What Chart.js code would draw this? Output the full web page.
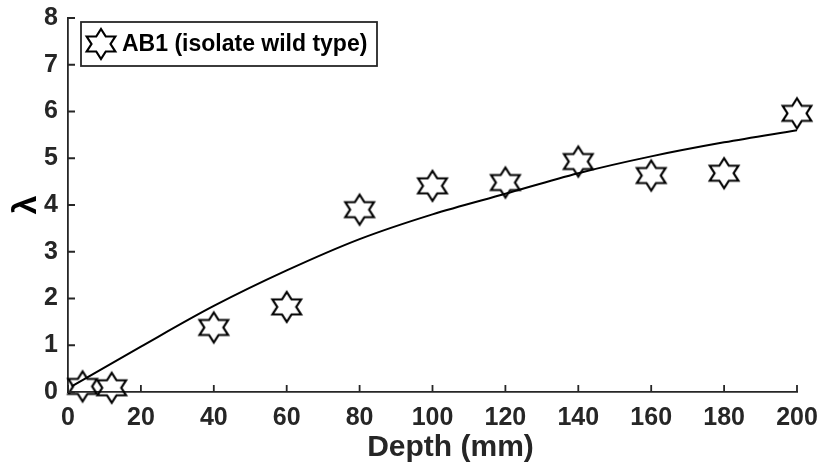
<!DOCTYPE html>
<html>
<head>
<meta charset="utf-8">
<script src="https://cdn.jsdelivr.net/npm/chart.js@4/dist/chart.umd.min.js"></script>
<style>
  html, body { margin: 0; padding: 0; background: #fff; }
  #wrap { width: 826px; height: 468px; }
</style>
</head>
<body>
<div id="wrap"><canvas id="chart" width="826" height="468"></canvas></div>
<script>
// ==== Data ====
const depth = [4, 12, 40, 60, 80, 100, 120, 140, 160, 180, 200];
const lambda = [0.12, 0.09, 1.38, 1.82, 3.9, 4.41, 4.48, 4.93, 4.63, 4.68, 5.96];

// fitted curve
const fitDepth = [1, 20, 40, 60, 80, 100, 120, 140, 160, 180, 200];
const fitLambda = [0.12, 0.97, 1.84, 2.6, 3.27, 3.8, 4.24, 4.68, 5.04, 5.34, 5.6];

const xTicks = [0, 20, 40, 60, 80, 100, 120, 140, 160, 180, 200];
const yTicks = [0, 1, 2, 3, 4, 5, 6, 7, 8];

const seriesLabel = "AB1 (isolate wild type)";
const xTitle = "Depth (mm)";
const axisColor = "#262626";
const fontFam = "'Liberation Sans', Arial, sans-serif";

// ==== Hexagram marker ====
function makeStar(r) {
  const size = Math.ceil(r * 2 + 6);
  const c = document.createElement("canvas");
  c.width = size;
  c.height = size;
  const g = c.getContext("2d");
  const cx = size / 2, cy = size / 2;
  const inner = r / Math.sqrt(3);
  g.beginPath();
  for (let i = 0; i < 12; i++) {
    const ang = -Math.PI / 2 + i * Math.PI / 6;
    const rr = i % 2 === 0 ? r : inner;
    const px = cx + Math.cos(ang) * rr * 1.1;
    const py = cy + Math.sin(ang) * rr;
    if (i === 0) g.moveTo(px, py); else g.lineTo(px, py);
  }
  g.closePath();
  g.lineWidth = 2.2;
  g.lineJoin = "miter";
  g.strokeStyle = "#000";
  g.stroke();
  return c;
}
const star = makeStar(15);

// ==== Inward tick marks + x title ====
const inwardTicks = {
  id: "inwardTicks",
  afterDatasetsDraw(chart) {
    const { ctx, scales } = chart;
    const xs = scales.x, ys = scales.y;
    const len = 7;
    ctx.save();
    ctx.strokeStyle = axisColor;
    ctx.lineWidth = 1.8;
    ctx.beginPath();
    xTicks.forEach(v => {
      const px = xs.getPixelForValue(v);
      ctx.moveTo(px, ys.bottom);
      ctx.lineTo(px, ys.bottom - len);
    });
    yTicks.forEach(v => {
      const py = ys.getPixelForValue(v);
      ctx.moveTo(xs.left, py);
      ctx.lineTo(xs.left + len, py);
    });
    ctx.stroke();

    // axis title sits a bit right of centre in the original
    ctx.fillStyle = axisColor;
    ctx.font = "bold 30px " + fontFam;
    ctx.textAlign = "center";
    ctx.textBaseline = "alphabetic";
    ctx.fillText(xTitle, (xs.left + xs.right) / 2 + 18, ys.bottom + 64);
    ctx.restore();
  }
};

// ==== Boxed legend ====
const boxLegend = {
  id: "boxLegend",
  afterDraw(chart) {
    const { ctx } = chart;
    const x0 = 81, y0 = 22;
    const w = 296, h = 44;
    ctx.save();
    ctx.fillStyle = "#fff";
    ctx.fillRect(x0, y0, w, h);
    ctx.strokeStyle = axisColor;
    ctx.lineWidth = 1.8;
    ctx.strokeRect(x0, y0, w, h);
    ctx.drawImage(star, x0 + 20 - star.width / 2, y0 + h / 2 - star.height / 2);
    ctx.fillStyle = "#000";
    ctx.font = "bold 23px " + fontFam;
    ctx.textBaseline = "middle";
    ctx.fillText(chart.data.datasets[1].label, x0 + 41, y0 + h / 2 + 1);
    ctx.restore();
  }
};

// ==== Chart ====
const ctx = document.getElementById("chart").getContext("2d");
new Chart(ctx, {
  type: "scatter",
  data: {
    datasets: [
      {
        label: "fit",
        type: "line",
        data: fitDepth.map((x, i) => ({ x: x, y: fitLambda[i] })),
        borderColor: "#000",
        borderWidth: 2,
        pointRadius: 0,
        fill: false,
        cubicInterpolationMode: "monotone",
        order: 0
      },
      {
        label: seriesLabel,
        data: depth.map((x, i) => ({ x: x, y: lambda[i] })),
        pointStyle: star,
        pointRadius: 15,
        clip: false,
        order: 1
      }
    ]
  },
  options: {
    responsive: false,
    animation: false,
    layout: { padding: { left: 0, top: 18, right: 29, bottom: 0 } },
    plugins: {
      legend: { display: false },
      tooltip: { enabled: false }
    },
    scales: {
      x: {
        type: "linear",
        min: 0,
        max: 200,
        afterFit: s => {
          s.height = 76;
          s.paddingLeft = 0;
          s.paddingRight = 0;
        },
        afterBuildTicks: s => { s.ticks = xTicks.map(v => ({ value: v })); },
        grid: { display: false, drawTicks: false },
        border: { display: true, color: axisColor, width: 1.8 },
        ticks: {
          color: axisColor,
          padding: 11,
          maxRotation: 0,
          font: { family: fontFam, size: 25, weight: "bold" }
        },
        title: { display: false }
      },
      y: {
        min: 0,
        max: 8,
        afterFit: s => {
          s.width = 68;
          s.paddingTop = 0;
          s.paddingBottom = 0;
        },
        afterBuildTicks: s => { s.ticks = yTicks.map(v => ({ value: v })); },
        grid: { display: false, drawTicks: false },
        border: { display: true, color: axisColor, width: 1.8 },
        ticks: {
          color: axisColor,
          padding: 10,
          font: { family: fontFam, size: 25, weight: "bold" }
        },
        title: {
          display: true,
          text: "λ",
          color: "#000",
          padding: { top: 6, bottom: 0 },
          font: { family: fontFam, size: 34, weight: "bold" }
        }
      }
    }
  },
  plugins: [inwardTicks, boxLegend]
});
</script>
</body>
</html>
